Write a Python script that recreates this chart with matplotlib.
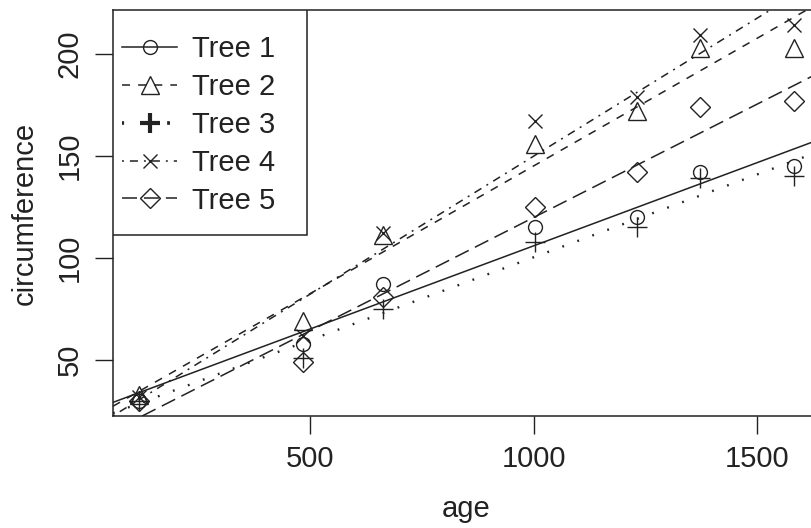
import matplotlib
matplotlib.use("Agg")
import matplotlib.pyplot as plt
from matplotlib.lines import Line2D
from matplotlib.patches import Rectangle
import numpy as np

# Orange trees data (age in days, trunk circumference in mm)
age = [118, 484, 664, 1004, 1231, 1372, 1582]
tree1 = [30, 58, 87, 115, 120, 142, 145]
tree2 = [33, 69, 111, 156, 172, 203, 203]
tree3 = [30, 51, 75, 108, 115, 139, 140]
tree4 = [32, 62, 112, 167, 179, 209, 214]
tree5 = [30, 49, 81, 125, 142, 174, 177]
labels = ["Tree 1", "Tree 2", "Tree 3", "Tree 4", "Tree 5"]

ink = "#222222"
plt.rcParams["font.family"] = ["Liberation Sans", "DejaVu Sans"]
plt.rcParams["lines.scale_dashes"] = False

fig = plt.figure(figsize=(8.11, 5.28), dpi=100)
ax = fig.add_axes([113 / 811, 112 / 528, 707 / 811, 406 / 528])

styles = [
    dict(marker="o", ms=10, ls="-", lw=1.1),
    dict(marker="^", ms=13, ls=(0, (5.8, 5.8)), lw=1.1),
    dict(marker="+", ms=14, ls=(0, (1.3, 10.2)), lw=1.7),
    dict(marker="x", ms=10.5, ls=(0, (1.4, 4.3, 5.8, 4.3)), lw=1.1),
    dict(marker="D", ms=10, ls=(0, (10.8, 5)), lw=1.1),
]

series = [tree1, tree2, tree3, tree4, tree5]
x = np.array(age)
for y, st in zip(series, styles):
    ax.plot(x, y, ls="none", marker=st["marker"], ms=st["ms"], mfc="none",
            mec=ink, mew=1.0, clip_on=False)
    b, a = np.polyfit(x, y, 1)
    ax.axline((0, a), slope=b, color=ink, lw=st["lw"], ls=st["ls"])

ax.set_xlim(59.4, 1640.6)
ax.set_ylim(22.6, 221.4)
ax.set_xticks([500, 1000, 1500])
ax.set_yticks([50, 100, 150, 200])
ax.tick_params(direction="out", length=13, width=1.0, color=ink,
               labelsize=21, labelcolor=ink, pad=8)
for lab in ax.get_yticklabels():
    lab.set_rotation(90)
    lab.set_va("center")
for sp in ax.spines.values():
    sp.set_color(ink)
    sp.set_linewidth(1.1)

ax.set_xlabel("age", fontsize=21, color=ink, labelpad=16)
ax.set_ylabel("circumference", fontsize=21, color=ink, labelpad=12)

# legend: R style box in the top-left corner
handles = []
for i, st in enumerate(styles):
    lw = 2.6 if i == 2 else 1.1
    mew = 3.0 if i == 2 else 1.0
    ls = (0.5, (2.0, 31)) if i == 2 else st["ls"]
    handles.append(Line2D([], [], color=ink, lw=lw, ls=ls, marker=st["marker"],
                          ms=st["ms"], mfc="none", mec=ink, mew=mew))
box = Rectangle((0, 1 - 225 / 406), 194 / 707, 225 / 406, transform=ax.transAxes,
                fill=True, facecolor="white", edgecolor=ink, lw=1.1, zorder=4)
ax.add_patch(box)
leg = ax.legend(handles, labels, loc="upper left",
                bbox_to_anchor=(9 / 707, 1 - 25 / 406), borderaxespad=0,
                fontsize=21, frameon=False, numpoints=1, handlelength=1.9,
                handletextpad=0.5, labelspacing=0.34, borderpad=0)
leg.set_zorder(5)
for t in leg.get_texts():
    t.set_color(ink)

fig.savefig("out.png", dpi=100)
